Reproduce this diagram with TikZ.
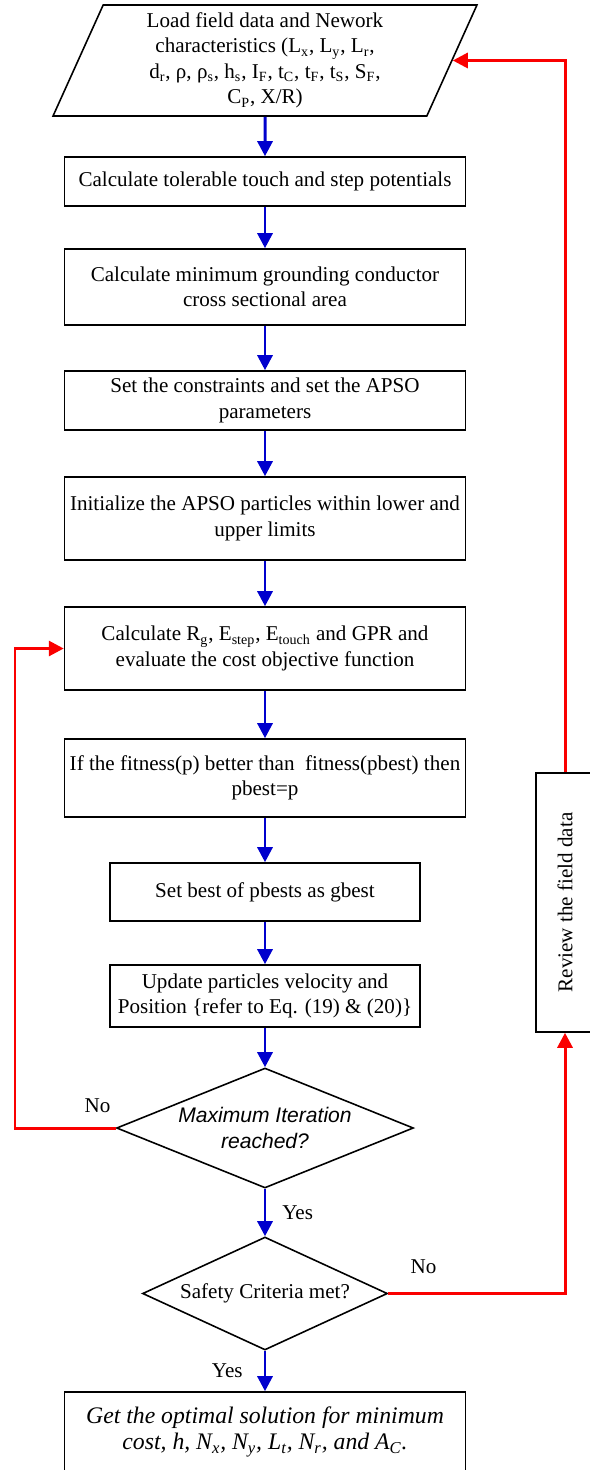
\documentclass[tikz,border=0pt]{standalone}
\usepackage{fontspec}
\usepackage{graphicx}
\setmainfont{Liberation Serif}
\newfontfamily\arialfont{Liberation Sans}
\usetikzlibrary{arrows.meta,shapes.geometric}
\definecolor{flowblue}{RGB}{0,0,205}
\definecolor{loopred}{RGB}{250,0,0}
\tikzset{
	txt/.style={font=\fontsize{12pt}{14.5pt}\selectfont},
	procbox/.style={txt, draw, line width=0.9pt, align=center, inner sep=1pt, minimum width=8.02cm},
	smallbox/.style={procbox, minimum width=6.2cm},
	iobox/.style={txt, draw, line width=0.9pt, align=center, trapezium, trapezium left angle=64, trapezium right angle=116, trapezium stretches body, minimum width=8.48cm, minimum height=2.22cm, inner xsep=0pt, inner ysep=2pt},
	decision/.style={txt, draw, line width=0.9pt, align=center, diamond, inner sep=0pt},
	flow/.style={draw=flowblue, line width=1.7pt, -{Triangle[width=0.3cm,length=0.3cm]}},
	loop/.style={draw=loopred, line width=1.7pt, -{Triangle[width=0.3cm,length=0.3cm]}},
	answer/.style={txt}
}

\begin{document}
\begin{tikzpicture}[x=0.02cm, y=-0.02cm]
			%%%%% START %%%%%
			\useasboundingbox (0, 0) rectangle (590, 1470);
			
			\node[iobox] (load) at (265, 60.5) {Load field data and Nework\\
				characteristics (L\textsubscript{x}, L\textsubscript{y}, L\textsubscript{r},\\
				d\textsubscript{r}, ρ, ρ\textsubscript{s}, h\textsubscript{s}, I\textsubscript{F}, t\textsubscript{C}, t\textsubscript{F}, t\textsubscript{S}, S\textsubscript{F},\\
				C\textsubscript{P}, X/R)};
			
			\node[procbox, minimum height=0.98cm] (tolerable) at (265, 181.5) {Calculate tolerable touch and step potentials};
			\node[procbox, minimum height=1.52cm] (gridarea) at (265, 287) {Calculate minimum grounding conductor\\ cross sectional area};
			\node[procbox, minimum height=1.18cm] (setparams) at (265, 400.5) {Set the constraints and set the APSO\\ parameters};
			\node[procbox, minimum height=1.66cm] (initpart) at (265, 518.5) {Initialize the APSO particles within lower and\\ upper limits};
			\node[procbox, minimum height=1.66cm] (costfn) at (265, 648.5) {Calculate R\textsubscript{g}, E\textsubscript{step}, E\textsubscript{touch} and GPR and\\ evaluate the cost objective function};
			\node[procbox, minimum height=1.56cm] (pbest) at (265, 778) {If the fitness(p) better than~ fitness(pbest) then\\ pbest=p};
			\node[smallbox, minimum height=1.16cm] (gbest) at (265, 892) {Set best of pbests as gbest};
			\node[smallbox, minimum height=1.24cm] (update) at (265, 996) {Update particles velocity and\\ Position \{refer to Eq. (19) \& (20)\}};
			
			\node[decision, aspect=2.475, minimum width=5.94cm, minimum height=2.4cm] (maxiter) at (265, 1128) {\arialfont\itshape Maximum Iteration\\ \arialfont\itshape reached?};
			\node[decision, aspect=2.17, minimum width=4.9cm, minimum height=2.26cm] (safety) at (265, 1293.5) {Safety Criteria met?};
			
			\node[procbox, font=\fontsize{13.5pt}{14.8pt}\selectfont\itshape, minimum height=1.6cm] (optimal) at (265, 1432) {Get the optimal solution for minimum\\ cost, h, N\textsubscript{x}, N\textsubscript{y}, L\textsubscript{t}, N\textsubscript{r}, and A\textsubscript{C}.};
			
			\node[procbox, minimum width=1.16cm, minimum height=5.18cm] (review) at (565, 902.5) {\rotatebox{90}{Review the field data}};
			
			\coordinate (loopx) at (15, 900);
			
			% main flow
			\draw[flow] (load) -- (tolerable);
			\draw[flow] (tolerable) -- (gridarea);
			\draw[flow] (gridarea) -- (setparams);
			\draw[flow] (setparams) -- (initpart);
			\draw[flow] (initpart) -- (costfn);
			\draw[flow] (costfn) -- (pbest);
			\draw[flow] (pbest) -- (gbest);
			\draw[flow] (gbest) -- (update);
			\draw[flow] (update) -- (maxiter);
			\draw[flow] (maxiter.south) -- node[answer, right, xshift=0.2cm] {Yes} (safety.north);
			\draw[flow] (safety.south) -- node[answer, left, xshift=-0.3cm] {Yes} (optimal.north);
			
			% loops back
			\draw[loop] (maxiter.west) -| node[answer, pos=0.09, above, yshift=0.15cm] {No} (loopx) |- (costfn.west);
			\draw[loop] (safety.east) -| node[answer, pos=0.1, above, yshift=0.25cm] {No} (review.south);
			\draw[loop] (review.north) |- (load.east);
			
			%%%%% END %%%%%
\end{tikzpicture}
\end{document}
